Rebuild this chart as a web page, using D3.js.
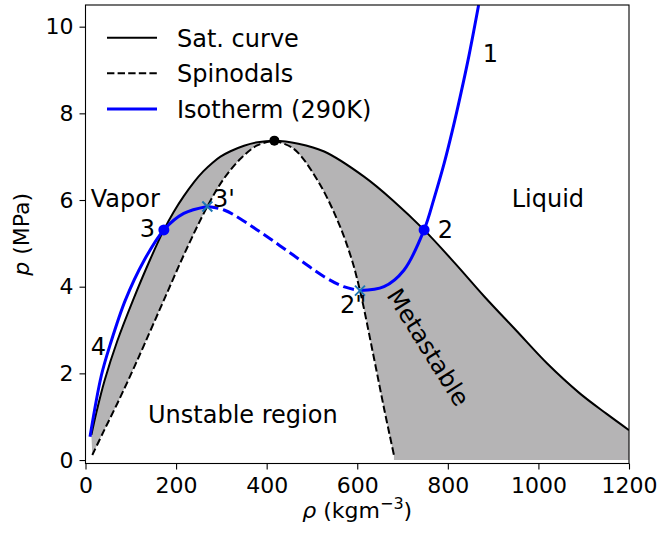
<!DOCTYPE html>
<html>
<head>
<meta charset="utf-8">
<script src="https://cdn.jsdelivr.net/npm/d3@7"></script>
<style>
  html, body { margin: 0; padding: 0; background: #fff; }
  svg { display: block; font-family: "DejaVu Sans", sans-serif; }
</style>
</head>
<body>
<svg id="chart" width="662" height="534"></svg>
<script>
// Saturation curve (vapour and liquid branches), density in kg/m3, pressure in MPa
const satVapor = [[13, 0.58], [25, 1.14], [42, 1.83], [70, 2.74], [105, 3.69], [142, 4.61], [173, 5.31], [195, 5.73], [217, 6.09], [240, 6.42], [260, 6.66], [280, 6.855], [298, 7.0], [320, 7.125], [350, 7.253], [380, 7.334], [417, 7.37]];
const satLiquid = [[417, 7.37], [470, 7.3], [527, 7.12], [615, 6.54], [680, 5.98], [747.6, 5.31], [815, 4.55], [880, 3.78], [950, 3.0], [1020, 2.22], [1090, 1.55], [1150, 1.07], [1200, 0.69]];

// Spinodal branches
const spinVapor = [[15, 0.115], [40, 0.66], [70, 1.3], [100, 1.97], [130, 2.67], [173, 3.69], [221, 4.82], [269, 5.85], [306, 6.5], [345, 6.98], [379, 7.26], [417, 7.37]];
const spinLiquid = [[417, 7.37], [460, 7.18], [512, 6.46], [556, 5.54], [586, 4.69], [606, 3.91], [636, 2.4], [660, 1.15], [681, 0.115]];

// Isotherm at 290 K: stable vapour, unstable loop, stable liquid
const isoVapor = [[10, 0.54], [35, 1.95], [55, 2.68], [88, 3.69], [129, 4.6], [173, 5.31], [217, 5.69], [269, 5.85]];
const isoUnstable = [[269, 5.85], [306, 5.77], [379, 5.31], [453, 4.77], [527, 4.23], [570, 4.0], [606, 3.91]];
const isoLiquid = [[606, 3.91], [659, 4.0], [703, 4.38], [747.6, 5.31], [770, 6.05], [792, 6.85], [810, 7.6], [828, 8.42], [847, 9.35], [868, 10.5]];

// Marked states
const criticalPoint = [417, 7.37];
const coexistencePoints = [[173, 5.31], [747.6, 5.31]];
const spinodalPoints = [[269, 5.85], [606, 3.91]];

// Axis ticks
const xTicks = [0, 200, 400, 600, 800, 1000, 1200];
const yTicks = [0, 2, 4, 6, 8, 10];

// Annotations (anchored at the text baseline start)
const labels = [
  { text: "Vapor", rho: 11.5, p: 5.84 },
  { text: "Liquid", rho: 941, p: 5.83 },
  { text: "1", rho: 877, p: 9.19 },
  { text: "2", rho: 777.6, p: 5.13 },
  { text: "3", rho: 120, p: 5.14 },
  { text: "3'", rho: 281.5, p: 5.84 },
  { text: "2\"", rho: 562, p: 3.39 },
  { text: "4", rho: 11.5, p: 2.42 },
  { text: "Unstable region", rho: 138, p: 0.85 }
];

const svg = d3.select("#chart");
const x = d3.scaleLinear().domain([0, 1200]).range([85.5, 629]);
const y = d3.scaleLinear().domain([-0.08, 10.5]).range([463.5, 5]);

svg.append("clipPath").attr("id", "plotclip")
  .append("rect").attr("x", 85.5).attr("y", 5).attr("width", 629 - 85.5).attr("height", 463.5 - 5);
const area = svg.append("g").attr("clip-path", "url(#plotclip)");

const lineGen = d3.line().x(d => x(d[0])).y(d => y(d[1])).curve(d3.curveCatmullRom.alpha(0.5));
const fill = "#b5b4b5";

// Metastable region on the vapour side: between saturation curve and spinodal
const vapPath = lineGen(satVapor) + lineGen(spinVapor.slice().reverse()).replace(/^M/, "L") + "Z";
area.append("path").attr("d", vapPath).attr("fill", fill);

// Metastable region on the liquid side: between spinodal, saturation curve and p = 0
const liqPath = lineGen(satLiquid)
  + "L" + x(1200) + "," + y(0)
  + "L" + x(spinLiquid[spinLiquid.length - 1][0]) + "," + y(0)
  + lineGen(spinLiquid.slice().reverse()).replace(/^M/, "L") + "Z";
area.append("path").attr("d", liqPath).attr("fill", fill);

// Spinodals
[spinVapor, spinLiquid].forEach(s => {
  area.append("path").attr("d", lineGen(s)).attr("fill", "none")
    .attr("stroke", "#000").attr("stroke-width", 2).attr("stroke-dasharray", "7.4,3.2");
});

// Saturation curve
area.append("path").attr("d", lineGen(satVapor.concat(satLiquid.slice(1))))
  .attr("fill", "none").attr("stroke", "#000").attr("stroke-width", 2);

// Isotherm
area.append("path").attr("d", lineGen(isoVapor)).attr("fill", "none")
  .attr("stroke", "#0000ff").attr("stroke-width", 3);
area.append("path").attr("d", lineGen(isoLiquid)).attr("fill", "none")
  .attr("stroke", "#0000ff").attr("stroke-width", 3);
area.append("path").attr("d", lineGen(isoUnstable)).attr("fill", "none")
  .attr("stroke", "#0000ff").attr("stroke-width", 3).attr("stroke-dasharray", "11.1,4.8");

// Points
area.append("circle").attr("cx", x(criticalPoint[0])).attr("cy", y(criticalPoint[1]))
  .attr("r", 5).attr("fill", "#000");
coexistencePoints.forEach(d => {
  area.append("circle").attr("cx", x(d[0])).attr("cy", y(d[1])).attr("r", 5.5).attr("fill", "#0000ff");
});
spinodalPoints.forEach(d => {
  const cx = x(d[0]), cy = y(d[1]), s = 5;
  area.append("path")
    .attr("d", `M${cx - s},${cy - s}L${cx + s},${cy + s}M${cx - s},${cy + s}L${cx + s},${cy - s}`)
    .attr("stroke", "#1f77b4").attr("stroke-width", 2).attr("fill", "none");
});

// Text annotations
labels.forEach(l => {
  svg.append("text").attr("x", x(l.rho)).attr("y", y(l.p))
    .attr("font-size", 24).attr("fill", "#000").text(l.text);
});
svg.append("text")
  .attr("transform", `translate(${x(756)},${y(2.6)}) rotate(58)`)
  .attr("text-anchor", "middle").attr("dominant-baseline", "central")
  .attr("font-size", 24).text("Metastable");

// Axes
const xAxis = svg.append("g").attr("transform", `translate(0,${y.range()[0]})`)
  .call(d3.axisBottom(x).tickValues(xTicks).tickSize(6).tickPadding(8).tickFormat(d3.format("d")));
const yAxis = svg.append("g").attr("transform", `translate(${x.range()[0]},0)`)
  .call(d3.axisLeft(y).tickValues(yTicks).tickSize(6).tickPadding(6).tickFormat(d3.format("d")));
[xAxis, yAxis].forEach(a => {
  a.select(".domain").remove();
  a.selectAll(".tick line").attr("stroke", "#000").attr("stroke-width", 1.1);
  a.selectAll(".tick text").attr("font-size", 22).attr("font-family", "DejaVu Sans").attr("fill", "#000");
});

// Frame
svg.append("rect").attr("x", 85.5).attr("y", 5).attr("width", 629 - 85.5).attr("height", 463.5 - 5)
  .attr("fill", "none").attr("stroke", "#000").attr("stroke-width", 1.1);

// Axis titles
const xl = svg.append("text").attr("x", (85.5 + 629) / 2).attr("y", 518)
  .attr("text-anchor", "middle").attr("font-size", 22);
xl.append("tspan").attr("font-style", "italic").text("ρ");
xl.append("tspan").text(" (kgm");
xl.append("tspan").attr("font-size", 16).attr("dy", -9).text("−3");
xl.append("tspan").attr("dy", 9).text(")");

const yl = svg.append("text").attr("transform", `translate(29,${(5 + 463.5) / 2}) rotate(-90)`)
  .attr("text-anchor", "middle").attr("font-size", 22);
yl.append("tspan").attr("font-style", "italic").text("p");
yl.append("tspan").text(" (MPa)");

// Legend
const legendItems = [
  { label: "Sat. curve", color: "#000", dash: null, width: 2 },
  { label: "Spinodals", color: "#000", dash: "7.4,3.2", width: 2 },
  { label: "Isotherm (290K)", color: "#0000ff", dash: null, width: 3 }
];
const legend = svg.append("g");
legendItems.forEach((it, i) => {
  const ly = 37.7 + i * 35.6;
  legend.append("line").attr("x1", 107).attr("x2", 157).attr("y1", ly).attr("y2", ly)
    .attr("stroke", it.color).attr("stroke-width", it.width)
    .attr("stroke-dasharray", it.dash);
  legend.append("text").attr("x", 177).attr("y", ly + 8.8).attr("font-size", 24).text(it.label);
});
</script>
</body>
</html>
